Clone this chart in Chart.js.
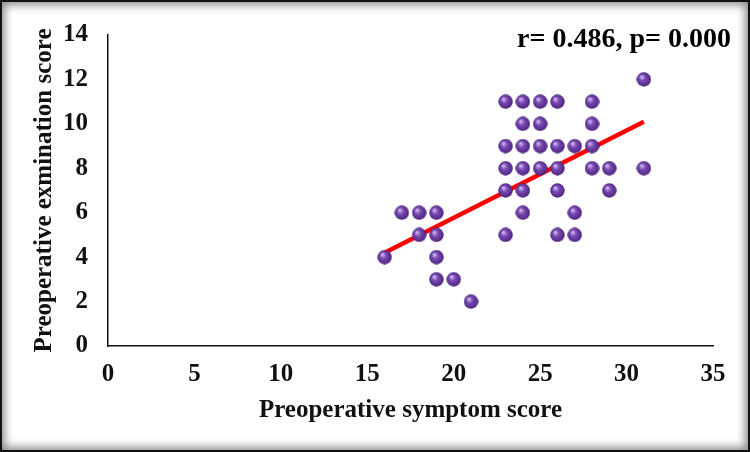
<!DOCTYPE html>
<html>
<head>
<meta charset="utf-8">
<script src="https://cdn.jsdelivr.net/npm/chart.js@4"></script>
<style>
  html, body { margin: 0; padding: 0; background: #fff; }
  #wrap { position: relative; width: 750px; height: 452px; }
  #frame {
    position: absolute; left: 0; top: 0; right: 0; bottom: 0;
    border: 2px solid #111;
    box-shadow: inset 0 0 8px 3px rgba(0, 0, 0, 0.45);
    pointer-events: none;
  }
</style>
</head>
<body>
<div id="wrap">
  <canvas id="chart" width="750" height="452"></canvas>
  <div id="frame"></div>
</div>
<script>
// values
const symptomScore = [31, 23, 24, 25, 26, 28, 24, 25, 28, 23, 24, 25, 26, 27, 28,
  23, 24, 25, 26, 28, 29, 31, 23, 24, 26, 29, 17, 18, 19, 24, 27,
  18, 19, 23, 26, 27, 16, 19, 19, 20, 21];
const examScore = [12, 11, 11, 11, 11, 11, 10, 10, 10, 9, 9, 9, 9, 9, 9,
  8, 8, 8, 8, 8, 8, 8, 7, 7, 7, 7, 6, 6, 6, 6, 6,
  5, 5, 5, 5, 5, 4, 4, 3, 3, 2];
const trendX = [16, 31];
const trendY = [4.2, 10.1];
const xTicks = [0, 5, 10, 15, 20, 25, 30, 35];
const yTicks = [0, 2, 4, 6, 8, 10, 12, 14];
const statText = "r= 0.486, p= 0.000";

const serif = "'Liberation Serif', 'Times New Roman', serif";

// little shaded sphere used as point marker
function sphere(d) {
  const c = document.createElement("canvas");
  c.width = d; c.height = d;
  const g = c.getContext("2d");
  const r = d / 2;
  const grad = g.createRadialGradient(r * 0.7, r * 0.65, r * 0.1, r, r, r);
  grad.addColorStop(0, "#c9b2ee");
  grad.addColorStop(0.35, "#7a4cb4");
  grad.addColorStop(0.8, "#5a2d90");
  grad.addColorStop(1, "#3f1e68");
  g.fillStyle = grad;
  g.beginPath();
  g.arc(r, r, r - 0.3, 0, Math.PI * 2);
  g.fill();
  return c;
}

const statLabel = {
  id: "statLabel",
  afterDraw(chart) {
    const ctx = chart.ctx;
    ctx.save();
    ctx.font = "bold 28px " + serif;
    ctx.fillStyle = "#000";
    ctx.textAlign = "right";
    ctx.textBaseline = "middle";
    ctx.fillText(statText, 731, 40);
    ctx.restore();
  }
};

const points = symptomScore.map((x, i) => ({ x: x, y: examScore[i] }));
const trend = trendX.map((x, i) => ({ x: x, y: trendY[i] }));

new Chart(document.getElementById("chart"), {
  type: "scatter",
  data: {
    datasets: [
      {
        label: "trend",
        data: trend,
        showLine: true,
        borderColor: "#ff0000",
        borderWidth: 4.5,
        pointRadius: 0,
        order: 1
      },
      {
        label: "scores",
        data: points,
        pointStyle: sphere(15),
        pointRadius: 7.5,
        order: 0
      }
    ]
  },
  options: {
    responsive: false,
    animation: false,
    layout: { padding: { top: 26, right: 37, bottom: 0, left: 0 } },
    plugins: {
      legend: { display: false },
      tooltip: { enabled: false }
    },
    scales: {
      x: {
        min: 0,
        max: 35,
        afterBuildTicks: s => { s.ticks = xTicks.map(v => ({ value: v })); },
        afterFit: s => { s.height = 106; },
        grid: { display: false, drawTicks: false },
        border: { display: true, color: "#111", width: 1.5 },
        ticks: {
          padding: 14,
          color: "#111",
          font: { family: serif, size: 25, weight: "bold" }
        },
        title: {
          display: true,
          text: "Preoperative symptom score",
          color: "#111",
          padding: { top: 0, bottom: 26 },
          font: { family: serif, size: 25, weight: "bold" }
        }
      },
      y: {
        min: 0,
        max: 14,
        afterBuildTicks: s => { s.ticks = yTicks.map(v => ({ value: v })); },
        afterFit: s => { s.width = 108; },
        grid: { display: false, drawTicks: false },
        border: { display: true, color: "#111", width: 1.5 },
        ticks: {
          padding: 20,
          color: "#111",
          font: { family: serif, size: 25, weight: "bold" }
        },
        title: {
          display: true,
          text: "Preoperative exmination score",
          color: "#111",
          padding: { top: 30, bottom: 0 },
          font: { family: serif, size: 25, weight: "bold" }
        }
      }
    }
  },
  plugins: [statLabel]
});
</script>
</body>
</html>
